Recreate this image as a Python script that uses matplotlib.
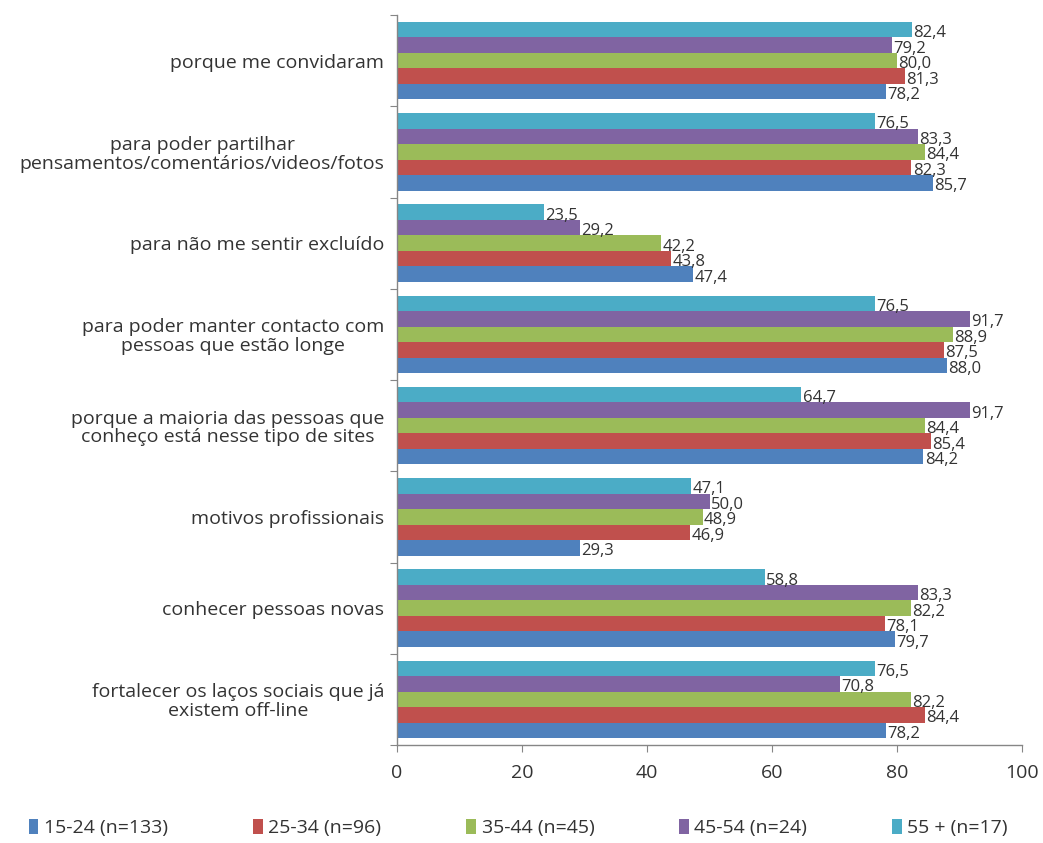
import matplotlib
matplotlib.use("Agg")
import matplotlib.pyplot as plt
import numpy as np
from matplotlib.patches import Patch

categories = [
    "porque me convidaram",
    "para poder partilhar\npensamentos/comentários/videos/fotos",
    "para não me sentir excluído",
    "para poder manter contacto com\npessoas que estão longe",
    "porque a maioria das pessoas que\nconheço está nesse tipo de sites",
    "motivos profissionais",
    "conhecer pessoas novas",
    "fortalecer os laços sociais que já\nexistem off-line",
]
series_names = ["15-24 (n=133)", "25-34 (n=96)", "35-44 (n=45)", "45-54 (n=24)", "55 + (n=17)"]
v_15_24 = [78.2, 85.7, 47.4, 88.0, 84.2, 29.3, 79.7, 78.2]
v_25_34 = [81.3, 82.3, 43.8, 87.5, 85.4, 46.9, 78.1, 84.4]
v_35_44 = [80.0, 84.4, 42.2, 88.9, 84.4, 48.9, 82.2, 82.2]
v_45_54 = [79.2, 83.3, 29.2, 91.7, 91.7, 50.0, 83.3, 70.8]
v_55 = [82.4, 76.5, 23.5, 76.5, 64.7, 47.1, 58.8, 76.5]
series_values = [v_15_24, v_25_34, v_35_44, v_45_54, v_55]
colors = ["#4F81BD", "#C0504D", "#9BBB59", "#8064A2", "#4BACC6"]
x_ticks = [0, 20, 40, 60, 80, 100]

plt.rcParams["font.family"] = ["Open Sans", "DejaVu Sans"]

fig = plt.figure(figsize=(10.43, 8.43), dpi=100)
ax = fig.add_axes([397 / 1043, 1 - 745 / 843, (1022 - 397) / 1043, (745 - 15) / 843])

n = len(categories)
ypos = np.arange(n)[::-1].astype(float)
h = 0.17
txtc = "#333333"
for j, (vals, col) in enumerate(zip(series_values, colors)):
    yy = ypos + (j - 2) * h
    ax.barh(yy, vals, height=h, color=col, edgecolor="none")
    for y, v in zip(yy, vals):
        ax.annotate(f"{v:.1f}".replace(".", ","), (v, y), xytext=(1, -2.5),
                    textcoords="offset points", va="center", ha="left",
                    fontsize=12, color=txtc)

ax.set_xlim(0, 100)
ax.set_ylim(-0.5, n - 0.5)
ax.set_xticks(x_ticks)
ax.set_xticklabels([str(t) for t in x_ticks], fontsize=14, color=txtc)
ax.set_yticks(np.arange(-0.5, n, 1.0), minor=False)
ax.set_yticklabels([])
ax.set_yticks(ypos, minor=True)
ax.set_yticklabels(categories, minor=True, fontsize=14, color=txtc,
                   multialignment="center", linespacing=1.05)
ax.tick_params(axis="y", which="minor", length=0, pad=9)
ax.tick_params(axis="y", which="major", length=5, color="#868686", direction="out")
ax.tick_params(axis="x", length=5, color="#868686", direction="out", pad=9)
for s in ["top", "right"]:
    ax.spines[s].set_visible(False)
for s in ["left", "bottom"]:
    ax.spines[s].set_color("#868686")
    ax.spines[s].set_linewidth(1.0)

handles = [Patch(facecolor=c, edgecolor="none") for c in colors]
fig.legend(handles, series_names, loc="lower center", bbox_to_anchor=(0.497, -0.014),
           ncol=5, frameon=False, fontsize=14, handlelength=0.5, handleheight=0.75,
           handletextpad=0.3, columnspacing=4.35, labelcolor=txtc)

fig.savefig("out.png", dpi=100, facecolor="white")
